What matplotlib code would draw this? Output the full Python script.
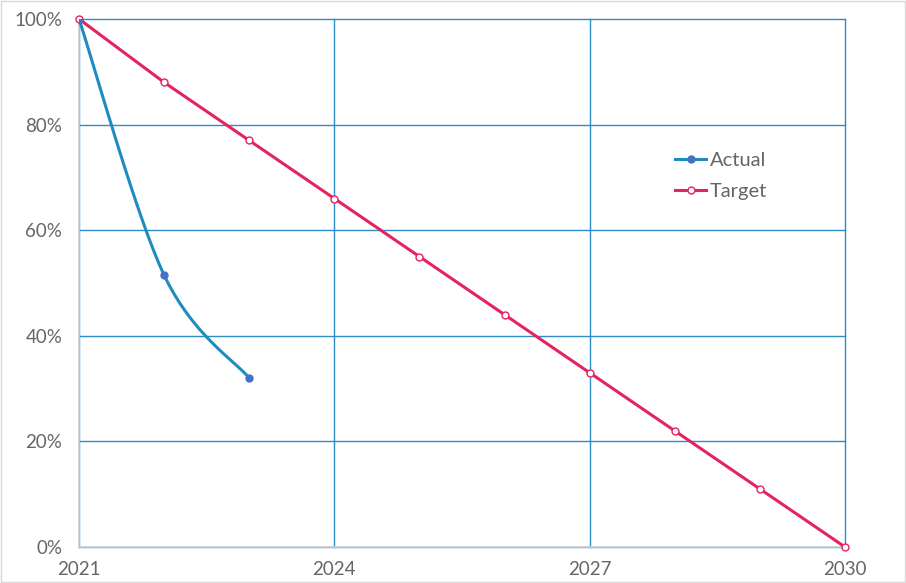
import numpy as np
import matplotlib.pyplot as plt
from matplotlib.ticker import FuncFormatter

# datos
years = [2021, 2022, 2023, 2024, 2025, 2026, 2027, 2028, 2029, 2030]
target = [100, 88, 77, 66, 55, 44, 33, 22, 11, 0]
actual_years = [2021, 2022, 2023]
actual = [100, 51.5, 32.0]

col_actual = '#1f8cc0'
col_actual_mk = '#4472c4'
col_target = '#e5235f'
col_grid = '#2e8dc4'
col_text = '#666666'

plt.rcParams['font.family'] = ['Lato', 'DejaVu Sans']


def catmull_rom(x, y, n=40):
    # suavizado tipo Excel entre puntos
    x = np.asarray(x, float)
    y = np.asarray(y, float)
    px = np.concatenate([[x[0]], x, [x[-1]]])
    py = np.concatenate([[y[0]], y, [y[-1]]])
    xs, ys = [], []
    for i in range(1, len(px) - 2):
        t = np.linspace(0, 1, n)
        p0, p1, p2, p3 = [np.array([px[j], py[j]]) for j in range(i - 1, i + 3)]
        m1 = (p2 - p0) / 2
        m2 = (p3 - p1) / 2
        h00 = 2*t**3 - 3*t**2 + 1
        h10 = t**3 - 2*t**2 + t
        h01 = -2*t**3 + 3*t**2
        h11 = t**3 - t**2
        pts = np.outer(h00, p1) + np.outer(h10, m1) + np.outer(h01, p2) + np.outer(h11, m2)
        xs.extend(pts[:, 0])
        ys.extend(pts[:, 1])
    return np.array(xs), np.array(ys)


fig = plt.figure(figsize=(9.06, 5.83), dpi=100)
ax = fig.add_axes([0.0872, 0.0617, 0.8455, 0.9057])

ax.set_xlim(2021, 2030)
ax.set_ylim(0, 100)
ax.set_xticks([2021, 2024, 2027, 2030])
ax.set_yticks(np.arange(0, 101, 20))
ax.yaxis.set_major_formatter(FuncFormatter(lambda v, p: f'{v:.0f}%'))

ax.grid(True, color=col_grid, linewidth=1.0)
ax.set_axisbelow(True)
for gl in ax.get_xgridlines() + ax.get_ygridlines():
    gl.set_clip_on(False)
for s in ['top', 'right']:
    ax.spines[s].set_visible(False)
for s in ['left', 'bottom']:
    ax.spines[s].set_color('#d0d0d0')
    ax.spines[s].set_linewidth(1.2)
    ax.spines[s].set_zorder(2.5)
ax.tick_params(length=0, colors=col_text, labelsize=13.5)
ax.tick_params(axis='x', pad=10)
ax.tick_params(axis='y', pad=12)

sx, sy = catmull_rom(actual_years, actual)
ax.plot(sx, sy, color=col_actual, linewidth=2.2, zorder=3)
ax.plot(actual_years, actual, 'o', color=col_actual_mk, markersize=5, zorder=4)
h_act, = ax.plot([], [], '-o', color=col_actual, markerfacecolor=col_actual_mk,
                 markeredgecolor=col_actual_mk, markersize=5, linewidth=2.2, label='Actual')

ax.plot(years, target, '-o', color=col_target, linewidth=2.2, markersize=5,
        markerfacecolor='white', markeredgecolor=col_target, markeredgewidth=1.0,
        label='Target', zorder=3, clip_on=False)

leg = ax.legend(loc='upper left', bbox_to_anchor=(0.755, 0.783), frameon=False,
                fontsize=14.5, handlelength=1.5, handletextpad=0.2, labelspacing=0.68)
for t in leg.get_texts():
    t.set_color(col_text)

fig.patches.append(plt.Rectangle((0.001, 0.001), 0.998, 0.998, transform=fig.transFigure,
                                 fill=False, edgecolor='#d9d9d9', linewidth=1.0))

fig.savefig('out.png', dpi=100)
